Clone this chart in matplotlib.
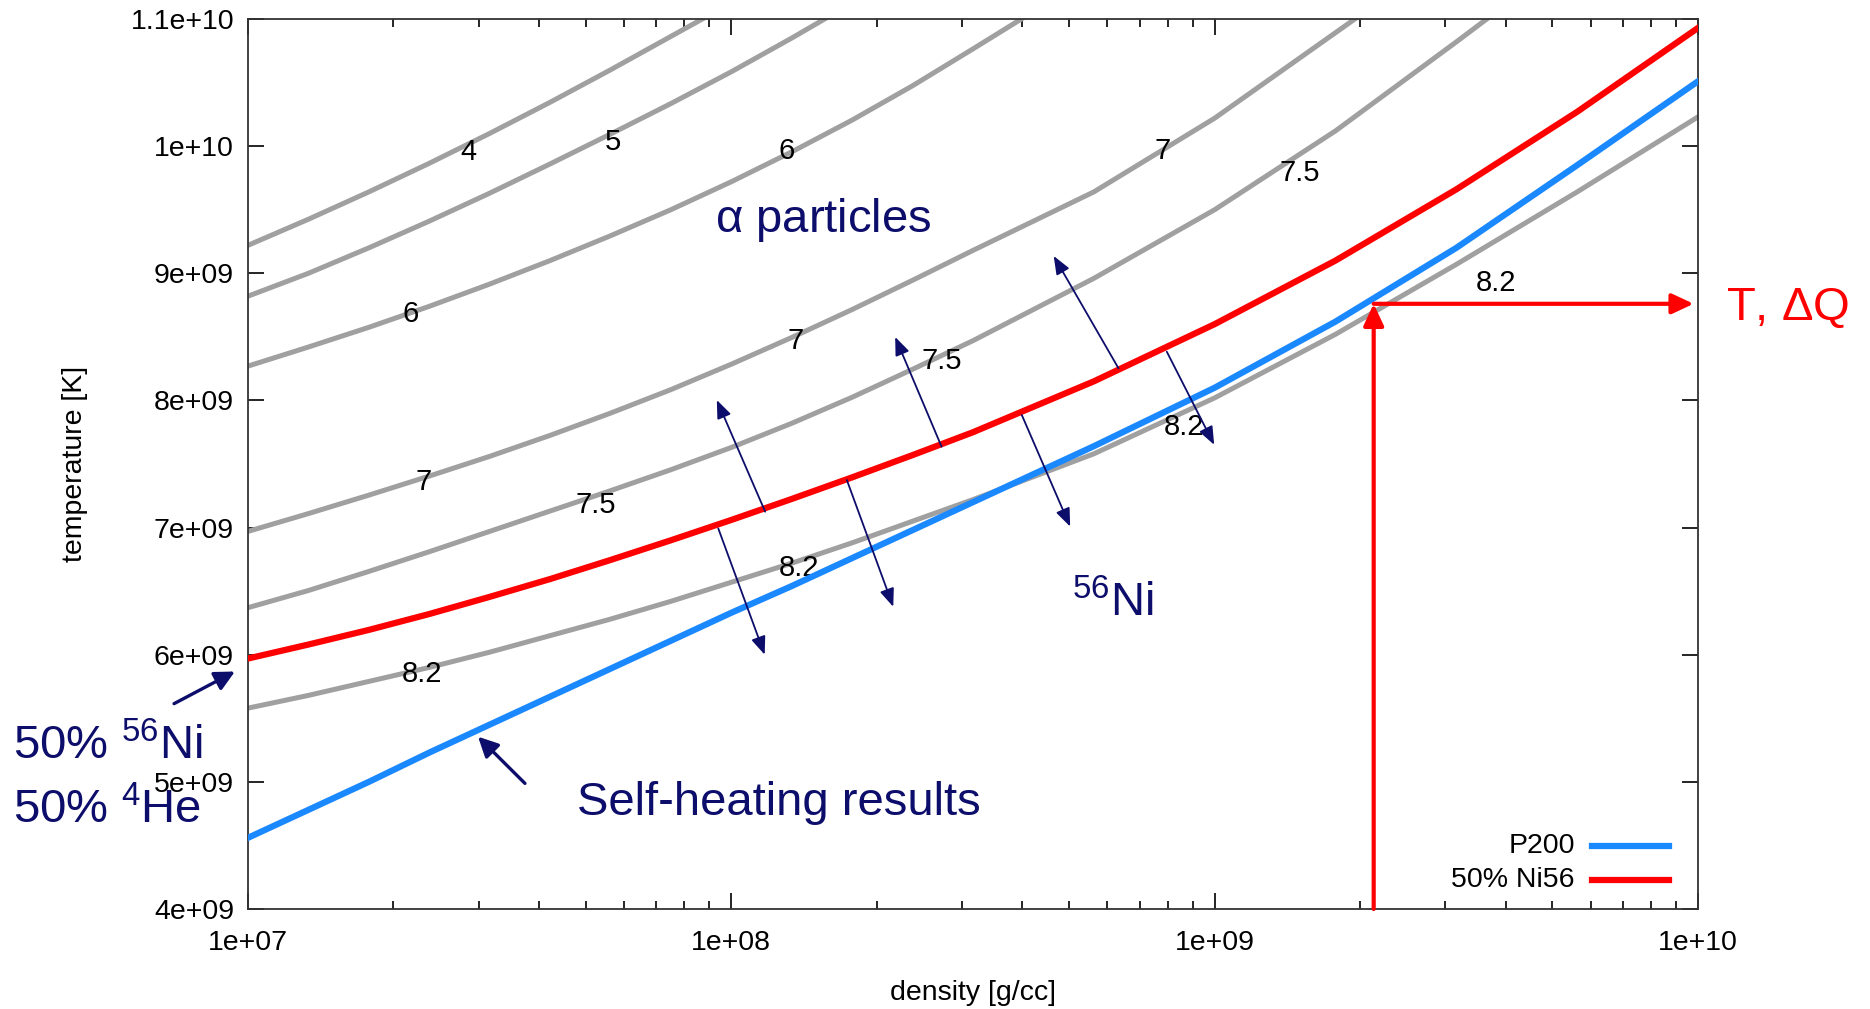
import numpy as np
import matplotlib.pyplot as plt
from matplotlib.ticker import FixedLocator, FixedFormatter, LogLocator, NullLocator, NullFormatter

plt.rcParams['font.family'] = ['Liberation Sans', 'DejaVu Sans']
plt.rcParams['mathtext.fontset'] = 'custom'
plt.rcParams['mathtext.rm'] = 'Liberation Sans'
plt.rcParams['mathtext.default'] = 'regular'

# log10 of density [g/cc] where the two main curves were read
log_rho = [7.0, 7.125, 7.25, 7.375, 7.5, 7.625, 7.75, 7.875, 8.0, 8.125, 8.25, 8.375, 8.5,
           8.75, 9.0, 9.25, 9.5, 9.75, 10.0]

# temperatures in 1e9 K
t_p200 = [4.56, 4.78, 5.00, 5.23, 5.45, 5.67, 5.89, 6.11, 6.33, 6.54, 6.76, 6.98, 7.20,
          7.64, 8.10, 8.62, 9.20, 9.85, 10.51]
t_ni56 = [5.97, 6.08, 6.195, 6.32, 6.455, 6.595, 6.745, 6.90, 7.06, 7.225, 7.395, 7.57, 7.75,
          8.15, 8.60, 9.10, 9.66, 10.27, 10.93]

# gray contours (value -> log density, temperature)
c_rho = {
    '4':   [7.0, 7.125, 7.25, 7.375, 7.5, 7.625, 7.75, 7.94],
    '5':   [7.0, 7.125, 7.25, 7.375, 7.5, 7.625, 7.75, 7.875, 8.0, 8.125, 8.193],
    '6':   [7.0, 7.125, 7.25, 7.375, 7.5, 7.625, 7.75, 7.875, 8.0, 8.125, 8.25, 8.375, 8.5, 8.6],
    '7':   [7.0, 7.125, 7.25, 7.375, 7.5, 7.625, 7.75, 7.875, 8.0, 8.125, 8.25, 8.375, 8.5,
            8.75, 9.0, 9.29],
    '7.5': [7.0, 7.125, 7.25, 7.375, 7.5, 7.625, 7.75, 7.875, 8.0, 8.125, 8.25, 8.375, 8.5,
            8.75, 9.0, 9.25, 9.5, 9.563],
    '8.2': [7.0, 7.125, 7.25, 7.375, 7.5, 7.625, 7.75, 7.875, 8.0, 8.125, 8.25, 8.375, 8.5,
            8.75, 9.0, 9.25, 9.5, 9.75, 10.0],
}
c_temp = {
    '4':   [9.22, 9.425, 9.64, 9.865, 10.10, 10.345, 10.60, 11.0],
    '5':   [8.82, 9.00, 9.20, 9.41, 9.63, 9.86, 10.095, 10.335, 10.585, 10.85, 11.0],
    '6':   [8.27, 8.42, 8.575, 8.74, 8.915, 9.10, 9.295, 9.50, 9.72, 9.955, 10.205, 10.475,
            10.765, 11.0],
    '7':   [6.97, 7.11, 7.255, 7.405, 7.56, 7.725, 7.90, 8.085, 8.285, 8.495, 8.715, 8.945, 9.18,
            9.64, 10.22, 11.0],
    '7.5': [6.37, 6.505, 6.655, 6.81, 6.97, 7.13, 7.29, 7.455, 7.63, 7.82, 8.025, 8.245, 8.47,
            8.96, 9.50, 10.12, 10.82, 11.0],
    '8.2': [5.58, 5.68, 5.79, 5.90, 6.02, 6.15, 6.28, 6.42, 6.57, 6.72, 6.88, 7.05, 7.22,
            7.58, 8.02, 8.52, 9.07, 9.64, 10.23],
}

# contour labels: text, log density, temperature
lab_text = ['4', '5', '6', '6', '7', '7', '7', '7.5', '7.5', '7.5', '8.2', '8.2', '8.2', '8.2']
lab_rho = [7.457, 7.755, 8.115, 7.336, 8.893, 8.133, 7.363, 9.177, 8.436, 7.72, 9.583, 8.937, 8.14, 7.36]
lab_temp = [9.95, 10.03, 9.96, 8.68, 9.96, 8.47, 7.36, 9.79, 8.31, 7.18, 8.92, 7.79, 6.68, 5.85]

# small arrows across the 50% Ni56 line: (tail rho, tail T, head rho, head T)
arrows = [
    (8.070, 7.125, 7.970, 8.003),
    (7.973, 6.993, 8.069, 6.000),
    (8.435, 7.636, 8.339, 8.499),
    (8.239, 7.374, 8.335, 6.377),
    (8.801, 8.253, 8.667, 9.136),
    (8.601, 7.885, 8.701, 7.008),
    (8.901, 8.383, 8.999, 7.651),
]

# marked point on the self-heating curve
pt_rho = 9.329
pt_temp = 8.76

yticks = [4, 5, 6, 7, 8, 9, 10, 11]
ytick_labels = ['4e+09', '5e+09', '6e+09', '7e+09', '8e+09', '9e+09', '1e+10', '1.1e+10']
xticks = [1e7, 1e8, 1e9, 1e10]
xtick_labels = ['1e+07', '1e+08', '1e+09', '1e+10']

navy = '#0d0d6b'
gray = '#a0a0a0'
red = '#ff0000'
blue = '#1a88ff'
fs = 20.5

fig = plt.figure(figsize=(18.7, 10.09), dpi=100)
ax = fig.add_axes([0.13262, 0.09911, 0.77540, 0.88206])

for key in c_rho:
    ax.plot(10 ** np.array(c_rho[key]), np.array(c_temp[key]) * 1e9, color=gray, lw=3.6,
            solid_joinstyle='round', zorder=2)

for s, r, t in zip(lab_text, lab_rho, lab_temp):
    ax.text(10 ** r, t * 1e9, s, fontsize=21, ha='center', va='center', color='black', zorder=3)

rho = 10 ** np.array(log_rho)
ax.plot(rho, np.array(t_ni56) * 1e9, color=red, lw=4.5, solid_joinstyle='round', zorder=4)
ax.plot(rho, np.array(t_p200) * 1e9, color=blue, lw=4.5, solid_joinstyle='round', zorder=4)

for r0, t0, r1, t1 in arrows:
    ax.annotate('', xy=(10 ** r1, t1 * 1e9), xytext=(10 ** r0, t0 * 1e9),
                arrowprops=dict(arrowstyle='-|>,head_length=0.5,head_width=0.2', color=navy,
                                lw=1.3, mutation_scale=22, shrinkA=0, shrinkB=0), zorder=5)

# red arrows marking T, dQ
ax.annotate('', xy=(10 ** pt_rho, pt_temp * 1e9), xytext=(10 ** pt_rho, 4e9),
            arrowprops=dict(arrowstyle='-|>,head_length=0.75,head_width=0.35', color=red,
                            lw=3, mutation_scale=17.5, shrinkA=0, shrinkB=0), zorder=6)
ax.annotate('', xy=(10 ** 9.991, pt_temp * 1e9), xytext=(10 ** pt_rho, pt_temp * 1e9),
            arrowprops=dict(arrowstyle='-|>,head_length=0.75,head_width=0.35', color=red,
                            lw=3, mutation_scale=17.5, shrinkA=0, shrinkB=0), zorder=6)

# pointer arrows for the text notes
ax.annotate('', xy=(10 ** 6.973, 5.868e9), xytext=(10 ** 6.847, 5.615e9), annotation_clip=False,
            arrowprops=dict(arrowstyle='-|>,head_length=0.6,head_width=0.3', color=navy,
                            lw=2.4, mutation_scale=20, shrinkA=0, shrinkB=0))
ax.annotate('', xy=(10 ** 7.476, 5.355e9), xytext=(10 ** 7.573, 4.988e9),
            arrowprops=dict(arrowstyle='-|>,head_length=0.6,head_width=0.3', color=navy,
                            lw=2.4, mutation_scale=20, shrinkA=0, shrinkB=0))

ax.text(10 ** 7.966, 9.322e9, r'$\alpha$ particles', fontsize=34, color=navy, va='baseline')
ax.text(10 ** 8.705, 6.30e9, r'$^{56}$Ni', fontsize=34, color=navy, va='baseline')
ax.text(10 ** 7.680, 4.739e9, 'Self-heating results', fontsize=34, color=navy, va='baseline')
fig.text(0.00695, 0.2478, r'50% $^{56}$Ni', fontsize=34, color=navy, va='baseline')
fig.text(0.00695, 0.1843, r'50% $^{4}$He', fontsize=34, color=navy, va='baseline')
fig.text(0.923, 0.6829, r'T, $\Delta$Q', fontsize=34, color=red, va='baseline')

# legend drawn by hand, text right aligned
ax.plot([0.927, 0.980], [0.0708, 0.0708], color=blue, lw=4.5, transform=ax.transAxes)
ax.plot([0.927, 0.980], [0.0326, 0.0326], color=red, lw=4.5, transform=ax.transAxes)
ax.text(0.915, 0.0708, 'P200', fontsize=fs, ha='right', va='center', transform=ax.transAxes)
ax.text(0.915, 0.0326, '50% Ni56', fontsize=fs, ha='right', va='center', transform=ax.transAxes)

ax.set_xscale('log')
ax.set_xlim(1e7, 1e10)
ax.set_ylim(4e9, 1.1e10)
ax.xaxis.set_major_locator(FixedLocator(xticks))
ax.xaxis.set_major_formatter(FixedFormatter(xtick_labels))
ax.xaxis.set_minor_locator(LogLocator(base=10, subs=np.arange(2, 10)))
ax.xaxis.set_minor_formatter(NullFormatter())
ax.yaxis.set_major_locator(FixedLocator([v * 1e9 for v in yticks]))
ax.yaxis.set_major_formatter(FixedFormatter(ytick_labels))
ax.yaxis.set_minor_locator(NullLocator())

ax.tick_params(which='both', direction='in', top=True, right=True, width=1.2, colors='black')
ax.tick_params(which='major', length=11.5, labelsize=fs)
ax.tick_params(which='minor', length=5.8)
ax.tick_params(axis='y', pad=10)
ax.tick_params(axis='x', pad=15)
for sp in ax.spines.values():
    sp.set_linewidth(1.3)
    sp.set_color('#333333')

ax.set_xlabel('density [g/cc]', fontsize=fs)
ax.set_ylabel('temperature [K]', fontsize=fs)
ax.xaxis.set_label_coords(0.5, -0.0798)
ax.yaxis.set_label_coords(-0.110, 0.5)

fig.savefig('out.png', dpi=100)
